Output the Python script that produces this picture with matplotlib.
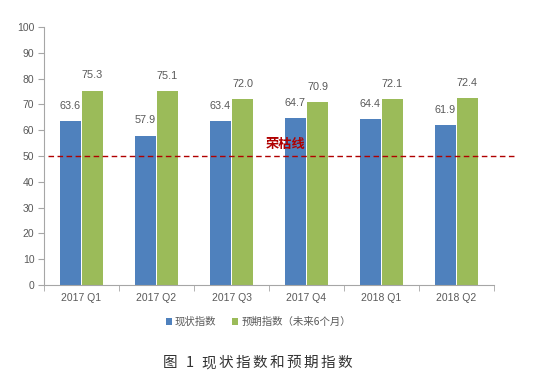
import matplotlib
matplotlib.use("Agg")
import matplotlib.pyplot as plt
import numpy as np

plt.rcParams['font.family'] = ['Noto Sans CJK SC', 'DejaVu Sans']

categories = ["2017 Q1", "2017 Q2", "2017 Q3", "2017 Q4", "2018 Q1", "2018 Q2"]
current_index = [63.6, 57.9, 63.4, 64.7, 64.4, 61.9]
expected_index = [75.3, 75.1, 72.0, 70.9, 72.1, 72.4]
series_names = ["现状指数", "预期指数（未来6个月）"]
threshold = 50
threshold_label = "荣枯线"
caption = "图 1 现状指数和预期指数"

blue = "#4F81BD"
green = "#9BBB59"
gray = "#595959"
axis_gray = "#A6A6A6"

fig = plt.figure(figsize=(5.44, 3.81), dpi=100)
ax = fig.add_axes([0.081, 0.252, 0.827, 0.677])

x = np.arange(len(categories))
w = 0.28
gap = 0.007
b1 = ax.bar(x - w / 2 - gap, current_index, w, color=blue, label=series_names[0])
b2 = ax.bar(x + w / 2 + gap, expected_index, w, color=green, label=series_names[1])

for rect, v in zip(b1, current_index):
    ax.text(rect.get_x() + rect.get_width() / 2, v + 4, f"{v:.1f}",
            ha="center", va="bottom", fontsize=7.8, color=gray, family="Liberation Sans")
for rect, v in zip(b2, expected_index):
    ax.text(rect.get_x() + rect.get_width() / 2, v + 4, f"{v:.1f}",
            ha="center", va="bottom", fontsize=7.8, color=gray, family="Liberation Sans")

ax.plot([0.009, 1.047], [threshold, threshold], transform=ax.get_yaxis_transform(),
        color="#B00000", ls=(0, (4, 2.5)), lw=1.0, clip_on=False)
ax.text(2.45, threshold + 2.0, threshold_label, color="#B00000", fontsize=9.5,
        fontweight="bold", ha="left", va="bottom")

ax.set_xlim(-0.5, len(categories) - 0.5)
ax.set_ylim(0, 100)
ax.set_yticks(np.arange(0, 101, 10))
ax.set_xticks(x)
ax.set_xticklabels(categories)
ax.set_xticks(np.arange(-0.5, len(categories), 1), minor=True)
ax.tick_params(axis="x", which="major", length=0, pad=6)
ax.tick_params(axis="x", which="minor", length=4, color=axis_gray)
ax.tick_params(axis="y", length=4, color=axis_gray, pad=3)
for lab in ax.get_xticklabels() + ax.get_yticklabels():
    lab.set_fontsize(7.5)
    lab.set_color(gray)
    lab.set_family("Liberation Sans")

for s in ["top", "right"]:
    ax.spines[s].set_visible(False)
for s in ["left", "bottom"]:
    ax.spines[s].set_color(axis_gray)
    ax.spines[s].set_linewidth(0.8)

leg = fig.legend(handles=[b1, b2], labels=series_names, loc="center",
                 bbox_to_anchor=(0.475, 0.155), ncol=2, frameon=False,
                 fontsize=7.5, handlelength=0.6, handleheight=0.6,
                 handletextpad=0.3, columnspacing=1.5, labelcolor=gray)

# caption drawn character by character to reproduce the wide letter spacing
cap_x0 = 163 / 544
pitch = 17 / 544
xpos = cap_x0
for ch in caption:
    if ch == " ":
        xpos += pitch * 0.35
        continue
    fig.text(xpos, 0.047, ch, ha="left", va="center", fontsize=10.5, color="#333333")
    xpos += pitch * (0.55 if ch.isdigit() else 1.0)

fig.savefig("out.png", dpi=100)
